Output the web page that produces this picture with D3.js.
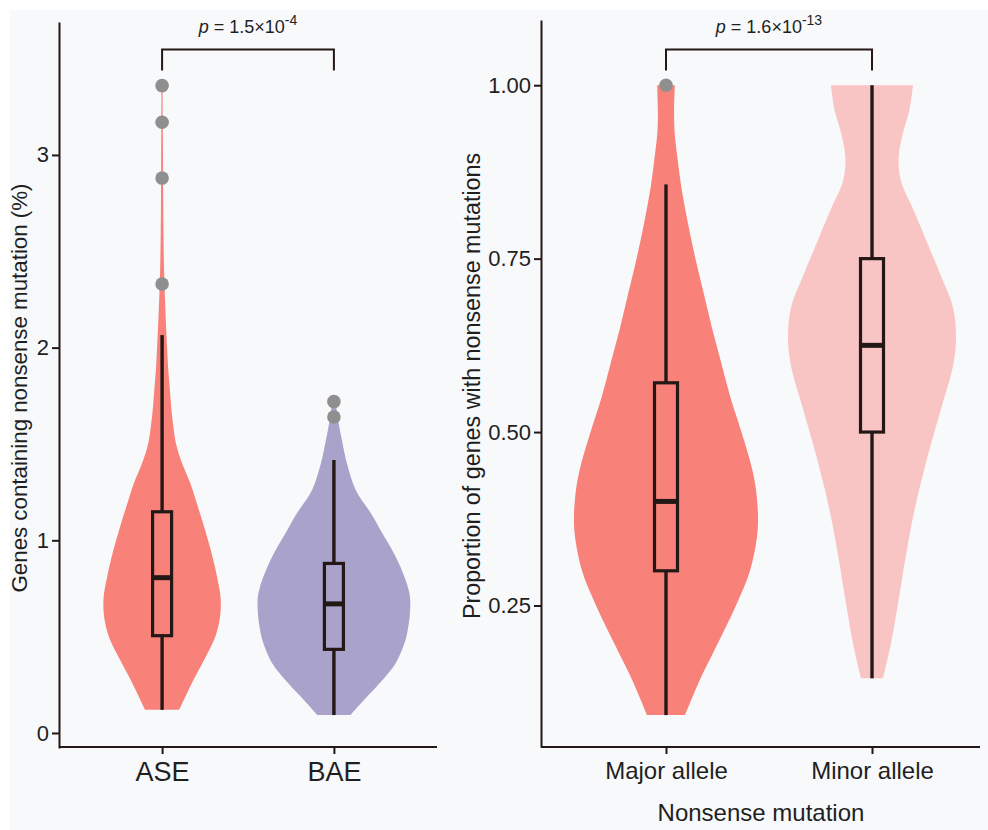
<!DOCTYPE html>
<html>
<head>
<meta charset="utf-8">
<script src="https://cdn.jsdelivr.net/npm/d3@7"></script>
<style>
  body { margin: 0; background: #ffffff; }
  svg { display: block; font-family: "Liberation Sans", Arial, sans-serif; }
</style>
</head>
<body>
<svg id="chart" width="988" height="830"></svg>
<script>
// ---- Left panel: genes containing nonsense mutation (%) ----
const leftCategories = ["ASE", "BAE"];
const leftTicks = [0, 1, 2, 3];
// [value, relative density]
const aseDensity = [
  [0.12, 0.224], [0.2, 0.32], [0.3, 0.445], [0.4, 0.58], [0.5, 0.70],
  [0.6, 0.762], [0.7, 0.770], [0.8, 0.728], [0.9, 0.672], [1.0, 0.605],
  [1.1, 0.53], [1.2, 0.45], [1.3, 0.368], [1.4, 0.263], [1.5, 0.184],
  [1.6, 0.145], [1.7, 0.118], [1.8, 0.099], [1.9, 0.079], [2.0, 0.066],
  [2.2, 0.043], [2.4, 0.026], [2.6, 0.018], [2.8, 0.014], [3.0, 0.012],
  [3.2, 0.009], [3.36, 0.007]
];
const baeDensity = [
  [0.093, 0.22], [0.19, 0.44], [0.275, 0.64], [0.36, 0.81], [0.48, 0.94],
  [0.55, 0.978], [0.62, 1.0], [0.71, 1.0], [0.79, 0.947], [0.88, 0.855],
  [0.97, 0.737], [1.05, 0.618], [1.14, 0.487], [1.26, 0.289], [1.40, 0.171],
  [1.52, 0.105], [1.61, 0.062], [1.72, 0.02]
];
// [lower whisker, Q1, median, Q3, upper whisker]
const aseStats = [0.12, 0.505, 0.806, 1.148, 2.065];
const baeStats = [0.093, 0.434, 0.67, 0.88, 1.417];
const aseOutliers = [2.33, 2.88, 3.17, 3.36];
const baeOutliers = [1.64, 1.72];

// ---- Right panel: proportion of genes with nonsense mutations ----
const rightCategories = ["Major allele", "Minor allele"];
const rightTicks = [0.25, 0.50, 0.75, 1.00];
const majorDensity = [
  [0.092, 0.207], [0.14, 0.359], [0.19, 0.543], [0.25, 0.761], [0.30, 0.913],
  [0.35, 0.99], [0.38, 1.0], [0.42, 0.975], [0.45, 0.93], [0.50, 0.82],
  [0.55, 0.70], [0.60, 0.60], [0.65, 0.50], [0.70, 0.41], [0.75, 0.32],
  [0.80, 0.24], [0.85, 0.17], [0.90, 0.12], [0.93, 0.095], [0.96, 0.088],
  [1.00, 0.096]
];
const minorDensity = [
  [0.145, 0.12], [0.196, 0.207], [0.253, 0.283], [0.31, 0.353], [0.367, 0.43],
  [0.424, 0.525], [0.48, 0.635], [0.538, 0.76], [0.595, 0.88], [0.634, 0.913],
  [0.68, 0.88], [0.725, 0.75], [0.777, 0.587], [0.822, 0.446], [0.862, 0.315],
  [0.897, 0.29], [0.931, 0.337], [0.965, 0.408], [1.0, 0.446]
];
const majorStats = [0.092, 0.30, 0.40, 0.571, 0.857];
const minorStats = [0.145, 0.50, 0.625, 0.75, 1.0];
const majorOutliers = [1.0];
const minorOutliers = [];

const INK = "#231815";
const POINT = "#8f8f8f";

const svg = d3.select("#chart");
svg.append("rect")
  .attr("x", 10).attr("y", 10).attr("width", 978).attr("height", 820)
  .attr("fill", "#f8f9fb");

function drawPanel(cfg) {
  const g = svg.append("g");
  const { x, y, w } = cfg;

  cfg.violins.forEach(v => {
    const cx = x(v.cat);
    const area = d3.area()
      .curve(d3.curveCatmullRom)
      .y(d => y(d[0]))
      .x0(d => cx - w(d[1]))
      .x1(d => cx + w(d[1]));
    g.append("path").datum(v.density)
      .attr("d", area).attr("fill", v.color);

    const [lo, q1, med, q3, hi] = v.stats;
    const bw = cfg.boxWidth;
    g.append("line").attr("x1", cx).attr("x2", cx)
      .attr("y1", y(q3)).attr("y2", y(hi))
      .attr("stroke", INK).attr("stroke-width", 3.4);
    g.append("line").attr("x1", cx).attr("x2", cx)
      .attr("y1", y(q1)).attr("y2", y(lo))
      .attr("stroke", INK).attr("stroke-width", 3.4);
    g.append("rect")
      .attr("x", cx - bw / 2).attr("width", bw)
      .attr("y", y(q3)).attr("height", y(q1) - y(q3))
      .attr("fill", "none").attr("stroke", INK).attr("stroke-width", 3.2);
    g.append("line").attr("x1", cx - bw / 2).attr("x2", cx + bw / 2)
      .attr("y1", y(med)).attr("y2", y(med))
      .attr("stroke", INK).attr("stroke-width", 5);

    g.selectAll(null).data(v.outliers).join("circle")
      .attr("cx", cx).attr("cy", d => y(d)).attr("r", 6.8)
      .attr("fill", POINT);
  });

  // axes
  const yAxis = g.append("g")
    .attr("transform", `translate(${cfg.axisX},0)`)
    .call(d3.axisLeft(y).tickValues(cfg.ticks).tickFormat(cfg.fmt)
      .tickSize(7).tickPadding(3).tickSizeOuter(0));
  const xAxis = g.append("g")
    .attr("transform", `translate(0,${cfg.axisY})`)
    .call(d3.axisBottom(x).tickSize(7).tickPadding(8).tickSizeOuter(0));
  xAxis.select(".domain").remove();
  g.append("line")
    .attr("x1", cfg.axisX).attr("x2", cfg.xEnd)
    .attr("y1", cfg.axisY).attr("y2", cfg.axisY)
    .attr("stroke", INK).attr("stroke-width", 2);

  [yAxis, xAxis].forEach(a => {
    a.selectAll(".domain, .tick line").attr("stroke", INK).attr("stroke-width", 2);
    a.selectAll("text").attr("fill", "#1f1f1f").attr("font-family", "Liberation Sans, Arial, sans-serif");
  });
  yAxis.selectAll("text").attr("font-size", 22);
  xAxis.selectAll("text").attr("font-size", cfg.xFont).attr("dy", "0.71em");

  // y title
  g.append("text")
    .attr("transform", `translate(${cfg.titleX},${cfg.titleY}) rotate(-90)`)
    .attr("text-anchor", "middle").attr("font-size", cfg.titleFont)
    .attr("fill", "#1f1f1f").text(cfg.yTitle);

  // significance bracket
  const [a, b] = cfg.violins.map(v => x(v.cat));
  g.append("path")
    .attr("d", `M${a},70.5V49.5H${b}V70.5`)
    .attr("fill", "none").attr("stroke", INK).attr("stroke-width", 2);
  const t = g.append("text")
    .attr("x", (a + b) / 2).attr("y", 33)
    .attr("text-anchor", "middle").attr("font-size", 18).attr("fill", "#1f1f1f");
  t.append("tspan").attr("font-style", "italic").text("p");
  t.append("tspan").text(" = " + cfg.pMantissa + "×10");
  t.append("tspan").attr("font-size", 14).attr("dy", -8).text(cfg.pExp);
}

// left panel scales
const xL = d3.scalePoint().domain(leftCategories).range([59, 437]).padding(0.6);
const yL = d3.scaleLinear().domain([-0.078, 3.69]).range([748, 22]);
const wL = d3.scaleLinear().domain([0, 1]).range([0, 76]);

drawPanel({
  x: xL, y: yL, w: wL, ticks: leftTicks, fmt: d3.format("d"),
  axisX: 59, axisY: 747, xEnd: 437, xFont: 27, boxWidth: 19,
  titleX: 27, titleY: 388, titleFont: 22.3, yTitle: "Genes containing nonsense mutation (%)",
  pMantissa: "1.5", pExp: "-4",
  violins: [
    { cat: "ASE", density: aseDensity, stats: aseStats, outliers: aseOutliers, color: "#f8827a" },
    { cat: "BAE", density: baeDensity, stats: baeStats, outliers: baeOutliers, color: "#a9a3cc" }
  ]
});

// right panel scales
const xR = d3.scalePoint().domain(rightCategories).range([541, 980]).padding(0.5655).align(0.5365);
const yR = d3.scaleLinear().domain([0.046, 1.094]).range([747, 20]);
const wR = d3.scaleLinear().domain([0, 1]).range([0, 92]);

drawPanel({
  x: xR, y: yR, w: wR, ticks: rightTicks, fmt: d3.format(".2f"),
  axisX: 541, axisY: 747, xEnd: 980, xFont: 24, boxWidth: 23,
  titleX: 480, titleY: 386, titleFont: 23.3, yTitle: "Proportion of genes with nonsense mutations",
  pMantissa: "1.6", pExp: "-13",
  violins: [
    { cat: "Major allele", density: majorDensity, stats: majorStats, outliers: majorOutliers, color: "#f8827a" },
    { cat: "Minor allele", density: minorDensity, stats: minorStats, outliers: minorOutliers, color: "#f9c5c4" }
  ]
});

// shared x title for the right panel
svg.append("text")
  .attr("x", 761).attr("y", 821).attr("text-anchor", "middle")
  .attr("font-size", 24).attr("fill", "#1f1f1f")
  .text("Nonsense mutation");
</script>
</body>
</html>
